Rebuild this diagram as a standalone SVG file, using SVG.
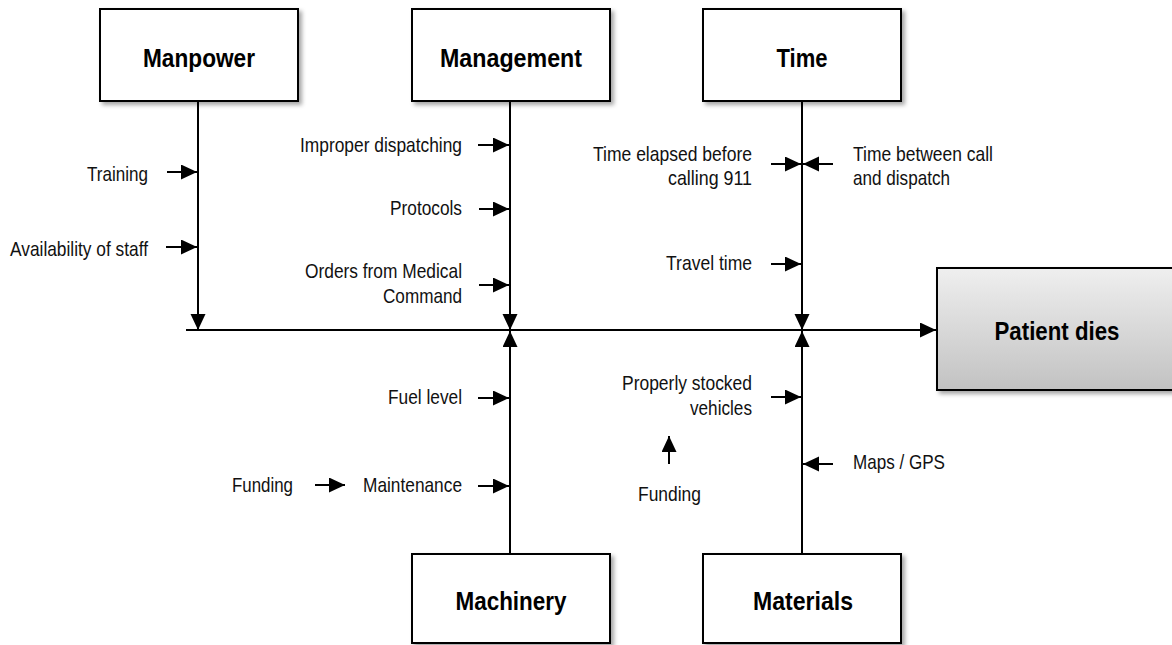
<svg xmlns="http://www.w3.org/2000/svg" width="1172" height="645" viewBox="0 0 1172 645">
<style>
.box{fill:#fff;stroke:#000;stroke-width:2;filter:url(#sh)}
.title{font-family:"Liberation Sans Narrow","Arial Narrow","Liberation Sans",sans-serif;font-weight:bold;font-size:26px;fill:#000;text-anchor:middle}
.lbl{font-family:"Liberation Sans Narrow","Arial Narrow","Liberation Sans",sans-serif;font-size:21px;fill:#111}
.e{text-anchor:end}
.c{text-anchor:middle}
.ln{stroke:#000;stroke-width:2;fill:none;marker-end:url(#ah)}
</style>
<defs>
<marker id="ah" markerUnits="userSpaceOnUse" markerWidth="17" markerHeight="16" refX="16" refY="7.5" orient="auto">
<path d="M0,0 L16,7.5 L0,15 z" fill="#000"/>
</marker>
<filter id="sh" x="-10%" y="-10%" width="130%" height="130%">
<feDropShadow dx="3" dy="3" stdDeviation="2" flood-color="#000" flood-opacity="0.35"/>
</filter>
<linearGradient id="g" x1="0" y1="0" x2="0" y2="1">
<stop offset="0" stop-color="#efefef"/>
<stop offset="1" stop-color="#c2c2c2"/>
</linearGradient>
</defs>
<g id="connectors">
<line class="ln" x1="186" y1="330" x2="936" y2="330"/>
<line class="ln" x1="198" y1="101" x2="198" y2="330"/>
<line class="ln" x1="510" y1="101" x2="510" y2="330"/>
<line class="ln" x1="802" y1="101" x2="802" y2="330"/>
<line class="ln" x1="510" y1="554" x2="510" y2="331"/>
<line class="ln" x1="802" y1="554" x2="802" y2="331"/>
<line class="ln" x1="167" y1="172" x2="197" y2="172"/>
<line class="ln" x1="166" y1="247" x2="197" y2="247"/>
<line class="ln" x1="478" y1="145" x2="509" y2="145"/>
<line class="ln" x1="479" y1="209" x2="509" y2="209"/>
<line class="ln" x1="479" y1="285" x2="509" y2="285"/>
<line class="ln" x1="771" y1="164" x2="801" y2="164"/>
<line class="ln" x1="833" y1="164" x2="803" y2="164"/>
<line class="ln" x1="771" y1="264" x2="801" y2="264"/>
<line class="ln" x1="478" y1="398" x2="509" y2="398"/>
<line class="ln" x1="478" y1="486" x2="509" y2="486"/>
<line class="ln" x1="315" y1="485" x2="345" y2="485"/>
<line class="ln" x1="771" y1="397" x2="801" y2="397"/>
<line class="ln" x1="669" y1="464" x2="669" y2="436"/>
<line class="ln" x1="833" y1="464" x2="803" y2="464"/>
</g>
<g id="manpower"><rect class="box" x="100" y="9" width="198" height="92"/><text class="title" x="199" y="67" textLength="112" lengthAdjust="spacingAndGlyphs">Manpower</text></g>
<g id="management"><rect class="box" x="412" y="9" width="198" height="92"/><text class="title" x="511" y="67" textLength="142" lengthAdjust="spacingAndGlyphs">Management</text></g>
<g id="time"><rect class="box" x="703" y="9" width="198" height="92"/><text class="title" x="802" y="67" textLength="51" lengthAdjust="spacingAndGlyphs">Time</text></g>
<g id="machinery"><rect class="box" x="412" y="554" width="198" height="89"/><text class="title" x="511" y="610" textLength="111" lengthAdjust="spacingAndGlyphs">Machinery</text></g>
<g id="materials"><rect class="box" x="703" y="554" width="198" height="89"/><text class="title" x="803" y="610" textLength="100" lengthAdjust="spacingAndGlyphs">Materials</text></g>
<g id="patient-dies"><rect x="937" y="268" width="240" height="122" fill="url(#g)" stroke="#000" stroke-width="2" filter="url(#sh)"/><text class="title" x="1057" y="340" textLength="125" lengthAdjust="spacingAndGlyphs">Patient dies</text></g>
<g id="labels">
<text class="lbl e" x="148" y="181" textLength="61" lengthAdjust="spacingAndGlyphs">Training</text>
<text class="lbl e" x="148" y="256" textLength="138" lengthAdjust="spacingAndGlyphs">Availability of staff</text>
<text class="lbl e" x="462" y="152" textLength="162" lengthAdjust="spacingAndGlyphs">Improper dispatching</text>
<text class="lbl e" x="462" y="215" textLength="72" lengthAdjust="spacingAndGlyphs">Protocols</text>
<text class="lbl e" x="462" y="278" textLength="157" lengthAdjust="spacingAndGlyphs">Orders from Medical</text>
<text class="lbl e" x="462" y="303" textLength="79" lengthAdjust="spacingAndGlyphs">Command</text>
<text class="lbl e" x="752" y="161" textLength="159" lengthAdjust="spacingAndGlyphs">Time elapsed before</text>
<text class="lbl e" x="752" y="185" textLength="84" lengthAdjust="spacingAndGlyphs">calling 911</text>
<text class="lbl" x="853" y="161" textLength="140" lengthAdjust="spacingAndGlyphs">Time between call</text>
<text class="lbl" x="853" y="185" textLength="97" lengthAdjust="spacingAndGlyphs">and dispatch</text>
<text class="lbl e" x="752" y="270" textLength="86" lengthAdjust="spacingAndGlyphs">Travel time</text>
<text class="lbl e" x="462" y="404" textLength="74" lengthAdjust="spacingAndGlyphs">Fuel level</text>
<text class="lbl e" x="462" y="492" textLength="99" lengthAdjust="spacingAndGlyphs">Maintenance</text>
<text class="lbl" x="232" y="492" textLength="61" lengthAdjust="spacingAndGlyphs">Funding</text>
<text class="lbl e" x="752" y="390" textLength="130" lengthAdjust="spacingAndGlyphs">Properly stocked</text>
<text class="lbl e" x="752" y="415" textLength="62" lengthAdjust="spacingAndGlyphs">vehicles</text>
<text class="lbl" x="638" y="501" textLength="63" lengthAdjust="spacingAndGlyphs">Funding</text>
<text class="lbl" x="853" y="469" textLength="92" lengthAdjust="spacingAndGlyphs">Maps / GPS</text>
</g>
</svg>
